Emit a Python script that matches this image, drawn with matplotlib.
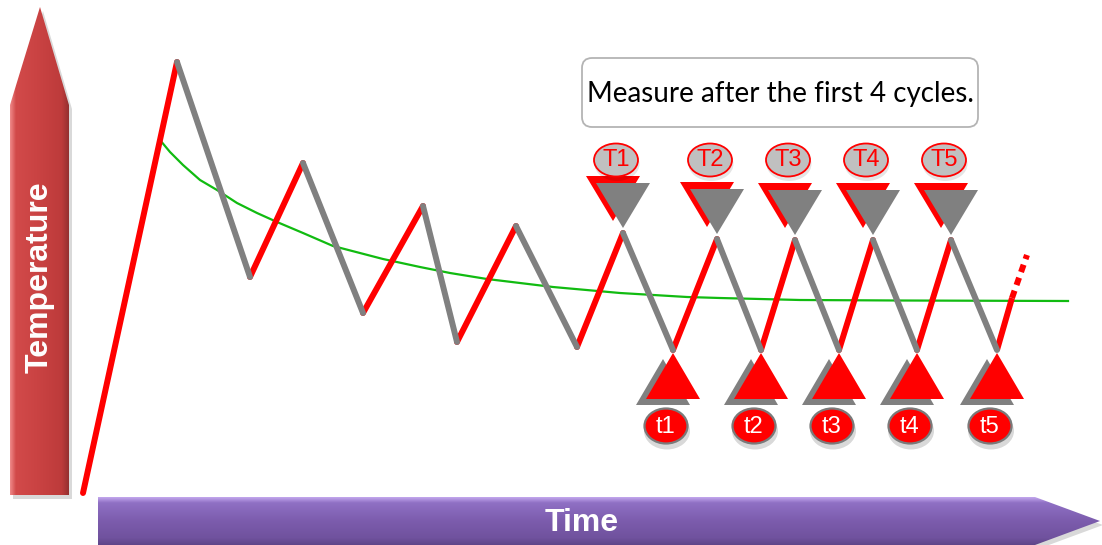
import numpy as np
import matplotlib
matplotlib.use("Agg")
import matplotlib.pyplot as plt
from matplotlib.patches import Polygon, Ellipse, FancyBboxPatch
from matplotlib.colors import LinearSegmentedColormap

# temperature path (time, temperature); rising legs red, falling legs grey
cycle_time = [83, 177, 250, 303, 363, 423, 457, 516, 577, 623, 673, 717,
              761, 795, 839, 873, 917, 951, 997]
cycle_temp = [52, 483, 268, 382, 232, 339, 203, 319, 198, 312, 195, 306,
              195, 305, 195, 305, 195, 305, 195]
# last (unfinished) heating leg: solid part then dotted continuation
tail_time = [997, 1012, 1027]
tail_temp = [195, 247, 290]

# average temperature trend (green)
avg_time = [160, 170, 183, 200, 217, 237, 257, 277, 303, 333, 383, 420,
            450, 487, 553, 620, 687, 720, 800, 900, 1068]
avg_temp = [405, 393, 380, 365, 355, 342, 332, 323, 312, 299, 286, 278,
            272, 266, 258, 252, 248, 247, 245, 244.5, 244]

peak_labels = ["T1", "T2", "T3", "T4", "T5"]
valley_labels = ["t1", "t2", "t3", "t4", "t5"]
first_measured = 9   # index of T1 in the cycle path

RED = "#ff0000"
GREY = "#808080"

fig = plt.figure(figsize=(11.02, 5.45), dpi=100)
ax = fig.add_axes([0, 0, 1, 1])
ax.set_xlim(0, 1102)
ax.set_ylim(0, 545)
ax.axis("off")


def gradient_shape(verts, colors, stops, horizontal=True, z=1):
    cmap = LinearSegmentedColormap.from_list("g", list(zip(stops, colors)))
    xs = [v[0] for v in verts]
    ys = [v[1] for v in verts]
    g = np.linspace(0, 1, 256)
    img = g[None, :] if horizontal else g[:, None]
    # shadow
    ax.add_patch(Polygon([(x + 3, y - 4) for x, y in verts], closed=True,
                         fc="#000000", ec="none", alpha=0.15, zorder=z - 0.1))
    poly = Polygon(verts, closed=True, fc="none", ec="none", zorder=z)
    ax.add_patch(poly)
    im = ax.imshow(img, cmap=cmap, aspect="auto", zorder=z,
                   extent=[min(xs), max(xs), min(ys), max(ys)])
    im.set_clip_path(poly)


# Temperature arrow
gradient_shape([(10, 50), (10, 440), (40, 538), (69, 440), (69, 50)],
               ["#ef8a8a", "#d24a4a", "#c94242", "#bd3b3b", "#933030"],
               [0, 0.1, 0.5, 0.88, 1])
ax.text(40, 268, "Temperature", rotation=90, ha="center", va="center",
        color="white", fontsize=23, fontweight="bold",
        family="Liberation Sans", zorder=3)

# Time arrow
gradient_shape([(98, 48), (1035, 48), (1100, 24), (1035, 0), (98, 0)],
               ["#c3a8ee", "#8f70c4", "#7c5cad", "#70529e", "#5e4588"],
               [0, 0.12, 0.5, 0.85, 1], horizontal=False)
ax.text(582, 22, "Time", ha="center", va="center", color="white",
        fontsize=23, fontweight="bold", family="Liberation Sans", zorder=3)

# average curve
ax.plot(avg_time, avg_temp, color="#11bb11", lw=1.6, zorder=4)

# zig-zag
for i in range(len(cycle_time) - 1):
    rising = cycle_temp[i + 1] > cycle_temp[i]
    ax.plot(cycle_time[i:i + 2], cycle_temp[i:i + 2],
            color=RED if rising else GREY, lw=4.3,
            solid_capstyle="round", zorder=5 if rising else 6)
ax.plot(tail_time[:2], tail_temp[:2], color=RED, lw=4.3,
        solid_capstyle="butt", zorder=5)
ax.plot(tail_time[1:], tail_temp[1:], color=RED, lw=4.3,
        dashes=(1.3, 1.0), zorder=5)

# measurement markers
peaks = list(range(first_measured, len(cycle_time), 2))
valleys = list(range(first_measured + 1, len(cycle_time), 2))
for lab, i in zip(peak_labels, peaks):
    px, pt = cycle_time[i], cycle_temp[i]
    tip = pt + 5
    tri = [(px - 27, tip + 45), (px + 27, tip + 45), (px, tip)]
    ax.add_patch(Polygon([(x - 10, y + 7) for x, y in tri], fc=RED,
                         ec="none", zorder=7))
    ax.add_patch(Polygon(tri, fc=GREY, ec="none", zorder=8))
    ax.add_patch(Ellipse((px - 6, 381), 45, 34, fc="#000000", ec="none",
                         alpha=0.10, zorder=8))
    ax.add_patch(Ellipse((px - 7, 385), 44, 33, fc="#c0c0c0", ec=RED,
                         lw=1.3, zorder=9))
    ax.text(px - 7, 385, lab, ha="center", va="center", color=RED,
            fontsize=17, family="Liberation Sans", zorder=10)

for lab, i in zip(valley_labels, valleys):
    vx, vt = cycle_time[i], cycle_temp[i]
    apex = vt - 3
    tri = [(vx - 27, apex - 46), (vx + 27, apex - 46), (vx, apex)]
    ax.add_patch(Polygon([(x - 10, y - 6) for x, y in tri], fc=GREY,
                         ec="none", zorder=7))
    ax.add_patch(Polygon(tri, fc=RED, ec="none", zorder=8))
    ax.add_patch(Ellipse((vx - 6, 114), 46, 37, fc="#000000", ec="none",
                         alpha=0.15, zorder=8))
    ax.add_patch(Ellipse((vx - 7, 119), 43, 35, fc=RED, ec="#7a7a7a",
                         lw=1.6, zorder=9))
    ax.text(vx - 7, 118, lab, ha="center", va="center", color="white",
            fontsize=17, family="Liberation Sans", zorder=10)

# note box
ax.add_patch(FancyBboxPatch((582, 418), 396, 69,
                            boxstyle="round,pad=0,rounding_size=10",
                            fc="white", ec="#b4b4b4", lw=1.3, zorder=9))
ax.text(780, 451, "Measure after the first 4 cycles.", ha="center",
        va="center", fontsize=20, family="Lato", zorder=10)

fig.savefig("out.png", dpi=100)
